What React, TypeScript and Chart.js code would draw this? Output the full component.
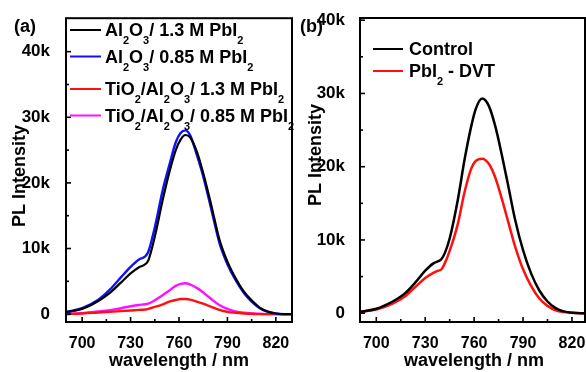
import React, { useEffect, useRef } from 'react';
import { Chart, registerables } from 'chart.js';

Chart.register(...registerables);

const FONT = "'Liberation Sans', Arial, Helvetica, sans-serif";

// ---------- Panel (a) ----------
const wavelengthsA = [690, 700, 710, 717, 724, 730, 735, 739, 741, 745, 750, 754, 758, 761, 764, 767, 771, 775, 780, 785, 790, 795, 800, 805, 810, 815, 820, 825, 830];
const al2o3_13M = [300, 800, 2000, 3200, 4800, 6200, 7100, 7600, 8200, 11800, 17500, 21600, 25000, 26600, 27300, 26900, 24800, 21500, 16600, 11400, 8000, 5500, 3500, 2100, 1000, 400, 100, 0, 0];
const al2o3_085M = [300, 900, 2200, 3700, 5600, 7200, 8300, 8800, 9500, 13200, 19000, 22700, 26200, 27600, 28000, 27200, 24300, 21000, 16000, 10900, 7600, 5200, 3300, 1900, 900, 350, 100, 0, 0];
const tio2_13M = [0, 100, 250, 350, 450, 550, 650, 700, 800, 1100, 1500, 1900, 2150, 2300, 2300, 2200, 1900, 1600, 1100, 650, 350, 200, 100, 50, 0, 0, 0, 0, 0];
const tio2_085M = [0, 150, 400, 600, 900, 1200, 1400, 1500, 1600, 2100, 2900, 3600, 4300, 4600, 4700, 4500, 4000, 3300, 2300, 1400, 800, 400, 200, 100, 50, 0, 0, 0, 0];
const legendA = ['Al_2O_3/ 1.3 M PbI_2', 'Al_2O_3/ 0.85 M PbI_2', 'TiO_2/Al_2O_3/ 1.3 M PbI_2', 'TiO_2/Al_2O_3/ 0.85 M PbI_2'];
const colorsA = ['#000000', '#1010ff', '#ff1010', '#ff10ff'];

// ---------- Panel (b) ----------
const wavelengthsB = [690, 700, 710, 717, 724, 730, 735, 738, 740, 742, 745, 750, 754, 758, 761, 765, 769, 773, 777, 781, 785, 790, 795, 800, 805, 810, 815, 820, 825, 830];
const control = [200, 600, 1600, 2600, 4200, 5800, 6800, 7100, 7400, 8200, 10200, 15500, 20800, 25300, 27900, 29300, 28300, 25500, 21600, 17300, 12900, 8600, 5400, 3100, 1600, 700, 250, 50, 0, 0];
const pbi2DVT = [200, 500, 1300, 2200, 3600, 4800, 5500, 5800, 6000, 6800, 8500, 12200, 16400, 19600, 20800, 21100, 20400, 18500, 15600, 12400, 9200, 6000, 3700, 2000, 1000, 400, 150, 50, 0, 0];
const legendB = ['Control', 'PbI_2 - DVT'];
const colorsB = ['#000000', '#ff1010'];

// ---------- Axes ----------
const xTicks = [700, 730, 760, 790, 820];
const xMinorTicks = [715, 745, 775, 805];
const yTicks = [0, 10000, 20000, 30000, 40000];
const yMinorTicks = [5000, 15000, 25000, 35000];
const xTitle = 'wavelength / nm';
const yTitle = 'PL Intensity';

type Series = { data: number[]; color: string; width: number };
type PanelCfg = {
  left: number;
  width: number;
  xs: number[];
  series: Series[];
  xMin: number;
  xMax: number;
  yMin: number;
  yMax: number;
  yAxisWidth: number;
  padRight: number;
  yLabelPad: number;
  legend: string[];
  legendColors: string[];
  legendLineY: number[];
  legendX0: number;
  legendX1: number;
  legendTextX: number;
  tag: string;
  tagX: number;
  tagY: number;
  yTitleX: number;
  yTitleY: number;
  xTitleX: number;
};

function drawRich(ctx: CanvasRenderingContext2D, text: string, x: number, y: number) {
  const parts = text.split(/(_\d)/);
  let cx = x;
  for (const p of parts) {
    if (!p) continue;
    if (p.startsWith('_')) {
      ctx.font = `bold 11px ${FONT}`;
      const t = p.slice(1);
      ctx.fillText(t, cx, y + 8);
      cx += ctx.measureText(t).width;
    } else {
      ctx.font = `bold 18px ${FONT}`;
      ctx.fillText(p, cx, y);
      cx += ctx.measureText(p).width;
    }
  }
}

function makeDecor(cfg: PanelCfg) {
  return {
    id: 'decor',
    afterDraw(chart: any) {
      const { ctx, chartArea: a, scales } = chart;
      const x = scales.x;
      const y = scales.y;
      ctx.save();
      ctx.strokeStyle = '#000';
      ctx.lineWidth = 2;
      ctx.strokeRect(a.left, a.top, a.right - a.left, a.bottom - a.top);
      ctx.lineWidth = 1.6;
      const line = (x1: number, y1: number, x2: number, y2: number) => {
        ctx.beginPath();
        ctx.moveTo(x1, y1);
        ctx.lineTo(x2, y2);
        ctx.stroke();
      };
      for (const v of xTicks) {
        const px = x.getPixelForValue(v);
        line(px, a.bottom, px, a.bottom - 5);
      }
      for (const v of xMinorTicks) {
        const px = x.getPixelForValue(v);
        line(px, a.bottom, px, a.bottom - 3);
      }
      for (const v of yTicks) {
        const py = y.getPixelForValue(v);
        line(a.left, py, a.left + 5, py);
      }
      for (const v of yMinorTicks) {
        const py = y.getPixelForValue(v);
        line(a.left, py, a.left + 3, py);
      }
      // legend
      ctx.fillStyle = '#000';
      ctx.textAlign = 'left';
      ctx.textBaseline = 'alphabetic';
      cfg.legend.forEach((lab, i) => {
        const ly = cfg.legendLineY[i];
        ctx.strokeStyle = cfg.legendColors[i];
        ctx.lineWidth = 2;
        line(cfg.legendX0, ly, cfg.legendX1, ly);
        drawRich(ctx, lab, cfg.legendTextX, ly + 6);
      });
      // panel tag
      ctx.font = `bold 18px ${FONT}`;
      ctx.fillText(cfg.tag, cfg.tagX, cfg.tagY);
      // x title
      ctx.textAlign = 'center';
      ctx.fillText(xTitle, cfg.xTitleX, 366);
      // y title
      ctx.translate(cfg.yTitleX, cfg.yTitleY);
      ctx.rotate(-Math.PI / 2);
      ctx.fillText(yTitle, 0, 0);
      ctx.restore();
    },
  };
}

function Panel({ cfg }: { cfg: PanelCfg }) {
  const ref = useRef<HTMLCanvasElement | null>(null);
  useEffect(() => {
    if (!ref.current) return;
    const chart = new Chart(ref.current, {
      type: 'line',
      data: {
        datasets: cfg.series.map((s) => ({
          data: cfg.xs.map((xv, i) => ({ x: xv, y: s.data[i] })),
          borderColor: s.color,
          borderWidth: s.width,
          pointRadius: 0,
          fill: false,
          cubicInterpolationMode: 'monotone' as const,
        })),
      },
      options: {
        responsive: false,
        animation: false,
        events: [],
        layout: { padding: { left: 0, top: 18, right: cfg.padRight, bottom: 0 } },
        plugins: { legend: { display: false }, tooltip: { enabled: false }, title: { display: false } },
        scales: {
          x: {
            type: 'linear',
            min: cfg.xMin,
            max: cfg.xMax,
            grid: { display: false },
            border: { display: false },
            afterBuildTicks: (scale: any) => {
              scale.ticks = xTicks.map((v) => ({ value: v }));
            },
            afterFit: (scale: any) => {
              scale.height = 50;
            },
            ticks: {
              color: '#000',
              padding: 4,
              maxRotation: 0,
              autoSkip: false,
              font: { family: FONT, size: 16, weight: 'bold' },
              callback: (v: any) => String(v),
            },
          },
          y: {
            type: 'linear',
            min: cfg.yMin,
            max: cfg.yMax,
            grid: { display: false },
            border: { display: false },
            afterBuildTicks: (scale: any) => {
              scale.ticks = yTicks.map((v) => ({ value: v }));
            },
            afterFit: (scale: any) => {
              scale.width = cfg.yAxisWidth;
            },
            ticks: {
              color: '#000',
              padding: cfg.yLabelPad,
              autoSkip: false,
              font: { family: FONT, size: 17, weight: 'bold' },
              callback: (v: any) => (Number(v) === 0 ? '0' : `${Number(v) / 1000}k`),
            },
          },
        },
      },
      plugins: [makeDecor(cfg)],
    } as any);
    return () => chart.destroy();
  }, [cfg]);
  return (
    <canvas
      ref={ref}
      width={cfg.width}
      height={372}
      style={{ position: 'absolute', left: cfg.left, top: 0, width: cfg.width, height: 372 }}
    />
  );
}

const cfgA: PanelCfg = {
  left: 0,
  width: 300,
  xs: wavelengthsA,
  series: [
    { data: al2o3_13M, color: colorsA[0], width: 2.2 },
    { data: al2o3_085M, color: colorsA[1], width: 2.4 },
    { data: tio2_13M, color: colorsA[2], width: 2.4 },
    { data: tio2_085M, color: colorsA[3], width: 2.4 },
  ],
  xMin: 690,
  xMax: 830,
  yMin: -1200,
  yMax: 45100,
  yAxisWidth: 66,
  padRight: 8,
  yLabelPad: 8,
  legend: legendA,
  legendColors: colorsA,
  legendLineY: [30, 56.5, 89, 115.5],
  legendX0: 70,
  legendX1: 101,
  legendTextX: 105,
  tag: '(a)',
  tagX: 14,
  tagY: 32,
  yTitleX: 25,
  yTitleY: 176,
  xTitleX: 179,
};

const cfgB: PanelCfg = {
  left: 293,
  width: 310,
  xs: wavelengthsB,
  series: [
    { data: control, color: colorsB[0], width: 2.5 },
    { data: pbi2DVT, color: colorsB[1], width: 2.5 },
  ],
  xMin: 690,
  xMax: 828,
  yMin: -1200,
  yMax: 40300,
  yAxisWidth: 67,
  padRight: 18,
  yLabelPad: 7,
  legend: legendB,
  legendColors: colorsB,
  legendLineY: [49, 71],
  legendX0: 80,
  legendX1: 110,
  legendTextX: 116,
  tag: '(b)',
  tagX: 7,
  tagY: 32,
  yTitleX: 28,
  yTitleY: 155,
  xTitleX: 181,
};

export default function App() {
  return (
    <div
      style={{
        position: 'fixed',
        left: 0,
        top: 0,
        width: 586,
        height: 372,
        overflow: 'hidden',
        background: '#fff',
      }}
    >
      <Panel cfg={cfgA} />
      <Panel cfg={cfgB} />
    </div>
  );
}
